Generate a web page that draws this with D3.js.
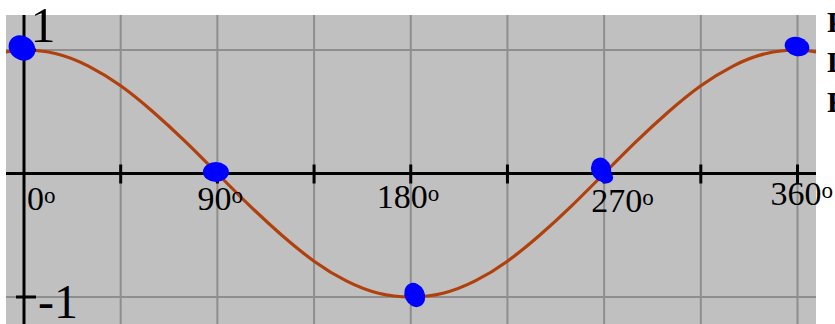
<!DOCTYPE html>
<html>
<head>
<meta charset="utf-8">
<script src="https://cdn.jsdelivr.net/npm/d3@7"></script>
<style>
  html, body { margin: 0; padding: 0; background: #fff; }
  svg { display: block; }
  text { font-family: "Liberation Serif", "DejaVu Serif", serif; fill: #000; }
</style>
</head>
<body>
<svg id="chart" width="835" height="324"></svg>
<script>
// Angle samples (degrees) and the cosine curve read at each one
const curveAngles = [-10, 0, 15, 30, 45, 60, 75, 90, 105, 120, 135, 150, 165, 180,
                     195, 210, 225, 240, 255, 270, 285, 300, 315, 330, 345, 360, 370];
const curveValues = [0.98, 1, 0.97, 0.87, 0.71, 0.5, 0.26, 0, -0.26, -0.5, -0.71, -0.87, -0.97, -1,
                     -0.97, -0.87, -0.71, -0.5, -0.26, 0, 0.26, 0.5, 0.71, 0.87, 0.97, 1, 0.98];

// Marked key points on the curve
const keyAngles = [0, 90, 180, 270, 360];
const keyValues = [1, 0, -1, 0, 1];

// Axis ticks and labels
const xTickAngles = [45, 90, 135, 180, 225, 270, 315, 360];
const xLabelAngles = [0, 90, 180, 270, 360];
const xLabels = ["0", "90", "180", "270", "360"];
const yTickValues = [1, -1];
const yLabels = ["1", "-1"];
const sideNotes = ["Period", "Domain", "Range"];

const svg = d3.select("#chart");

const x = d3.scaleLinear().domain([0, 360]).range([24, 797.5]);
const y = d3.scaleLinear().domain([-1, 1]).range([297, 50]);

const plot = { left: 6, right: 816, top: 15, bottom: 324 };

svg.append("defs").append("clipPath").attr("id", "plotClip")
  .append("rect")
  .attr("x", plot.left).attr("y", plot.top)
  .attr("width", plot.right - plot.left).attr("height", plot.bottom - plot.top);

// Gray plotting field
svg.append("rect")
  .attr("x", plot.left).attr("y", plot.top)
  .attr("width", plot.right - plot.left).attr("height", plot.bottom - plot.top)
  .attr("fill", "#c0c0c0");

const grid = svg.append("g").attr("clip-path", "url(#plotClip)");

// Grid lines every 45 degrees and at ±1
grid.selectAll("line.vgrid")
  .data(d3.range(0, 361, 45))
  .join("line")
  .attr("class", "vgrid")
  .attr("x1", d => x(d)).attr("x2", d => x(d))
  .attr("y1", plot.top).attr("y2", plot.bottom)
  .attr("stroke", "#8e8e8e").attr("stroke-width", 2);

grid.selectAll("line.hgrid")
  .data(yTickValues)
  .join("line")
  .attr("class", "hgrid")
  .attr("x1", plot.left).attr("x2", plot.right)
  .attr("y1", d => y(d)).attr("y2", d => y(d))
  .attr("stroke", "#8e8e8e").attr("stroke-width", 2);

// Axes
const axes = svg.append("g").attr("clip-path", "url(#plotClip)");
axes.append("line")
  .attr("x1", plot.left).attr("x2", plot.right)
  .attr("y1", y(0)).attr("y2", y(0))
  .attr("stroke", "#000").attr("stroke-width", 3);
axes.append("line")
  .attr("x1", x(0)).attr("x2", x(0))
  .attr("y1", plot.top).attr("y2", plot.bottom)
  .attr("stroke", "#000").attr("stroke-width", 3);

axes.selectAll("line.xtick")
  .data(xTickAngles)
  .join("line")
  .attr("class", "xtick")
  .attr("x1", d => x(d)).attr("x2", d => x(d))
  .attr("y1", y(0) - 9).attr("y2", y(0) + 10)
  .attr("stroke", "#000").attr("stroke-width", 3);

axes.selectAll("line.ytick")
  .data(yTickValues)
  .join("line")
  .attr("class", "ytick")
  .attr("x1", x(0) - 8).attr("x2", x(0) + 12)
  .attr("y1", d => y(d)).attr("y2", d => y(d))
  .attr("stroke", "#000").attr("stroke-width", 3);

// Cosine curve
const curvePts = curveAngles.map((a, i) => [a, curveValues[i]]);
grid.append("path")
  .datum(curvePts)
  .attr("fill", "none")
  .attr("stroke", "#b0400c")
  .attr("stroke-width", 3.2)
  .attr("d", d3.line().x(d => x(d[0])).y(d => y(d[1])).curve(d3.curveNatural));

// Hand-marked dots at the key points
const blobShape = [
  [{ dx: -2, dy: -2, rx: 14, ry: 12, rot: 35 }],
  [{ dx: -1.5, dy: -1.5, rx: 13, ry: 10, rot: 0 }],
  [{ dx: 4, dy: -2, rx: 10, ry: 12.5, rot: -25 }],
  [{ dx: -3, dy: -4, rx: 10, ry: 12, rot: -15 }, { dx: 2, dy: 4, rx: 7, ry: 6, rot: 0 }],
  [{ dx: -0.5, dy: -3.5, rx: 12.5, ry: 9.5, rot: 15 }]
];
const blobs = svg.append("g");
keyAngles.forEach((a, i) => {
  const cx = x(a), cy = y(keyValues[i]);
  blobShape[i].forEach(s => {
    blobs.append("ellipse")
      .attr("cx", 0).attr("cy", 0)
      .attr("rx", s.rx).attr("ry", s.ry)
      .attr("transform", `translate(${cx + s.dx},${cy + s.dy}) rotate(${s.rot})`)
      .attr("fill", "#0000ff");
  });
});

// Degree labels below the x-axis
const labelDx = [3, -20, -34, -13, -27];
const labelBase = [210, 210, 208, 212, 205];
xLabelAngles.forEach((a, i) => {
  const t = svg.append("text")
    .attr("x", x(a) + labelDx[i])
    .attr("y", labelBase[i])
    .attr("font-size", 34);
  t.append("tspan").text(xLabels[i]);
  t.append("tspan").attr("font-size", 23).attr("dy", -7).text("o");
});

// Value labels beside the y-axis
svg.append("text")
  .attr("x", x(0) + 6.5).attr("y", y(1) - 8)
  .attr("font-size", 50)
  .text(yLabels[0]);
svg.append("text")
  .attr("x", x(0) + 14).attr("y", y(-1) + 21)
  .attr("font-size", 48)
  .text(yLabels[1]);

// Notes at the right margin
svg.selectAll("text.note")
  .data(sideNotes)
  .join("text")
  .attr("class", "note")
  .attr("x", 827)
  .attr("y", (d, i) => 32 + i * 40)
  .attr("font-size", 30)
  .attr("font-weight", "bold")
  .text(d => d);
</script>
</body>
</html>
